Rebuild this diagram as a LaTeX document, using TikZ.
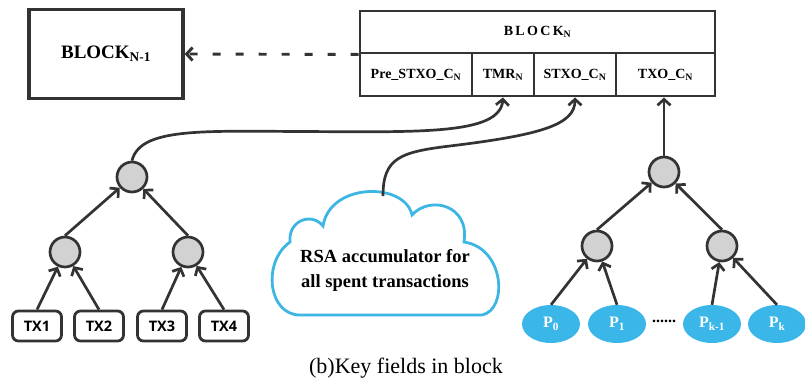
\documentclass[tikz,border=0pt]{standalone}
\usepackage{fontspec}
\setmainfont{Liberation Serif}
\newfontfamily\txfont{Open Sans}
\usetikzlibrary{arrows.meta,shapes.geometric}
\definecolor{ink}{HTML}{333333}
\definecolor{cloudblue}{HTML}{3DB6E3}
\definecolor{leafblue}{HTML}{3BB6E8}
\definecolor{hashgray}{HTML}{D2D2D2}
\tikzset{
  cell/.style={draw=ink, line width=2.9pt, minimum height=43pt, inner sep=0pt,
    font=\fontsize{14}{16}\selectfont\bfseries},
  bigblock/.style={draw=ink, line width=3.2pt, minimum width=154pt, minimum height=89pt,
    font=\fontsize{19}{22}\selectfont\bfseries},
  hash/.style={circle, draw=ink, fill=hashgray, line width=2.7pt, minimum size=30pt, inner sep=0pt},
  txbox/.style={draw=ink, line width=2.8pt, rounded corners=6pt, minimum width=49pt,
    minimum height=30pt, inner sep=0pt, font=\txfont\fontsize{14.5}{16}\selectfont\bfseries},
  leaf/.style={ellipse, fill=leafblue, minimum width=58pt, minimum height=38pt, inner sep=0pt,
    text=white, font=\fontsize{16}{18}\selectfont\bfseries},
  link/.style={draw=ink, line width=2.7pt, -{Straight Barb[length=6pt,width=13pt]}},
}
\begin{document}
\begin{tikzpicture}[x=1pt, y=-1pt]
\useasboundingbox (0,0) rectangle (805,381);

% previous block
\node[bigblock] (bprev) at (106,54) {BLOCK\textsubscript{N-1}};

% current block: header row and the four field cells
\node[cell, minimum width=355pt, minimum height=42pt] (btop) at (537.5,32) {B\,L\,O\,C\,K\textsubscript{N}};
\node[cell, minimum width=112pt] (c1) at (416,74.5) {Pre\_STXO\_C\textsubscript{N}};
\node[cell, minimum width=62pt]  (c2) at (503,74.5) {TMR\textsubscript{N}};
\node[cell, minimum width=82pt]  (c3) at (575,74.5) {STXO\_C\textsubscript{N}};
\node[cell, minimum width=99pt]  (c4) at (665.5,74.5) {TXO\_C\textsubscript{N}};

% link to the previous block
\draw[draw=ink, line width=2.9pt, dash pattern=on 8pt off 15pt,
      -{Straight Barb[length=6pt,width=13pt]}] (btop.south west) -- (bprev.east);

% Merkle tree over the transactions
\node[hash] (t1) at (132,177) {};
\node[hash] (m1) at (65,252) {};
\node[hash] (m2) at (188,252) {};
\node[txbox] (tx1) at (37,326) {TX1};
\node[txbox] (tx2) at (99,326) {TX2};
\node[txbox] (tx3) at (162,326) {TX3};
\node[txbox] (tx4) at (224,326) {TX4};
\draw[link] (tx1.north) -- (m1);
\draw[link] (tx2.north) -- (m1);
\draw[link] (tx3.north) -- (m2);
\draw[link] (tx4.north) -- (m2);
\draw[link] (m1.north) -- (t1);
\draw[link] (m2.north) -- (t1);
\draw[link] (t1.north) .. controls (140,128) and (200,131) .. (300,131.5)
                       .. controls (420,132) and (500,135) .. (c2.south);

% RSA accumulator cloud
\draw[draw=cloudblue, fill=white, line width=2.8pt]
  (300,315) .. controls (268,315) and (262,262) .. (290,242)
  .. controls (288,220) and (312,212) .. (323,226)
  .. controls (330,182) and (405,182) .. (412,215)
  .. controls (430,195) and (470,205) .. (464,242)
  .. controls (505,248) and (508,310) .. (482,315)
  -- cycle;
\coordinate (cloudtop) at (383,196);
\node[font=\fontsize{18.5}{25}\selectfont\bfseries, align=center] (acc) at (385,270)
  {RSA accumulator for\\all spent transactions};
\draw[link] (cloudtop) .. controls (383,158) and (400,152) .. (450,146)
                       .. controls (540,135) and (575,125) .. (c3.south);

% Merkle tree over the outputs
\node[hash] (t2) at (664,172) {};
\node[hash] (n1) at (597,246) {};
\node[hash] (n2) at (722,246) {};
\node[leaf] (p0) at (551,324) {P\textsubscript{0}};
\node[leaf] (p1) at (617,324) {P\textsubscript{1}};
\node[leaf] (pk1) at (712,324) {P\textsubscript{k-1}};
\node[leaf] (pk) at (777,324) {P\textsubscript{k}};
\node[font=\fontsize{16}{18}\selectfont\bfseries, inner sep=0pt] (dots) at (664,321) {......};
\draw[link] (p0.north) -- (n1);
\draw[link] (p1.north) -- (n1);
\draw[link] (pk1.north) -- (n2);
\draw[link] (pk.north) -- (n2);
\draw[link] (n1.north) -- (t2);
\draw[link] (n2.north) -- (t2);
\draw[link] (t2.north) -- (t2.north |- c4.south);

% caption
\node[font=\fontsize{22}{24}\selectfont] (cap) at (406,368) {(b)Key fields in block};
\end{tikzpicture}
\end{document}
